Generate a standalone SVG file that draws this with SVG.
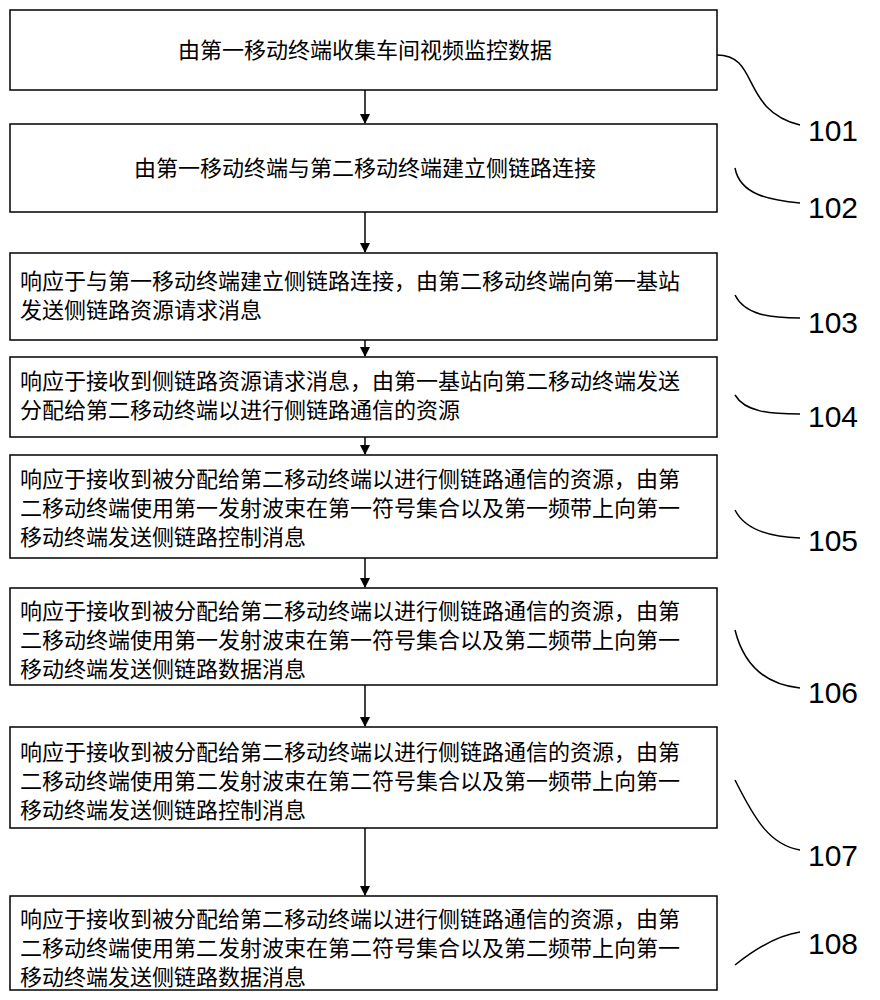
<svg xmlns="http://www.w3.org/2000/svg" width="880" height="1000" viewBox="0 0 880 1000">
<style>
.b{fill:#fff;stroke:#000;stroke-width:1.5}
.t{font-family:"Noto Sans CJK SC",sans-serif;font-size:22px;fill:#000}
.n{font-family:"Liberation Sans",sans-serif;font-size:30px;fill:#000}
.c{fill:none;stroke:#000;stroke-width:1.5}
</style>
<defs><marker id="a" markerWidth="10" markerHeight="10" refX="9" refY="5" orient="auto" markerUnits="userSpaceOnUse"><path d="M0,0 L10,5 L0,10 Z"/></marker></defs>
<rect width="880" height="1000" fill="#fff"/>
<g id="n1"><rect class="b" x="10" y="10" width="707" height="80"/><text class="t" x="365" y="58" text-anchor="middle">由第一移动终端收集车间视频监控数据</text></g>
<g id="n2"><rect class="b" x="10" y="124" width="707" height="88"/><text class="t" x="365" y="176" text-anchor="middle">由第一移动终端与第二移动终端建立侧链路连接</text></g>
<g id="n3"><rect class="b" x="10" y="253" width="707" height="87"/><text class="t" x="20" y="289">响应于与第一移动终端建立侧链路连接，由第二移动终端向第一基站</text><text class="t" x="20" y="318">发送侧链路资源请求消息</text></g>
<g id="n4"><rect class="b" x="10" y="357" width="707" height="80"/><text class="t" x="20" y="389">响应于接收到侧链路资源请求消息，由第一基站向第二移动终端发送</text><text class="t" x="20" y="418">分配给第二移动终端以进行侧链路通信的资源</text></g>
<g id="n5"><rect class="b" x="10" y="455" width="707" height="103"/><text class="t" x="20" y="487">响应于接收到被分配给第二移动终端以进行侧链路通信的资源，由第</text><text class="t" x="20" y="516">二移动终端使用第一发射波束在第一符号集合以及第一频带上向第一</text><text class="t" x="20" y="545">移动终端发送侧链路控制消息</text></g>
<g id="n6"><rect class="b" x="10" y="588" width="707" height="97"/><text class="t" x="20" y="619">响应于接收到被分配给第二移动终端以进行侧链路通信的资源，由第</text><text class="t" x="20" y="648">二移动终端使用第一发射波束在第一符号集合以及第二频带上向第一</text><text class="t" x="20" y="677">移动终端发送侧链路数据消息</text></g>
<g id="n7"><rect class="b" x="10" y="727" width="707" height="101"/><text class="t" x="20" y="760">响应于接收到被分配给第二移动终端以进行侧链路通信的资源，由第</text><text class="t" x="20" y="789">二移动终端使用第二发射波束在第二符号集合以及第一频带上向第一</text><text class="t" x="20" y="818">移动终端发送侧链路控制消息</text></g>
<g id="n8"><rect class="b" x="10" y="896" width="707" height="94"/><text class="t" x="20" y="927">响应于接收到被分配给第二移动终端以进行侧链路通信的资源，由第</text><text class="t" x="20" y="956">二移动终端使用第二发射波束在第二符号集合以及第二频带上向第一</text><text class="t" x="20" y="985">移动终端发送侧链路数据消息</text></g>
<g id="labels">
<text class="n" x="808" y="141">101</text><text class="n" x="808" y="218">102</text><text class="n" x="808" y="333">103</text><text class="n" x="808" y="427">104</text><text class="n" x="808" y="551">105</text><text class="n" x="808" y="703">106</text><text class="n" x="808" y="866">107</text><text class="n" x="808" y="954">108</text>
</g>
<g id="connectors">
<line class="c" x1="365" y1="90" x2="365" y2="123" marker-end="url(#a)"/>
<line class="c" x1="365" y1="212" x2="365" y2="252" marker-end="url(#a)"/>
<line class="c" x1="365" y1="340" x2="365" y2="356" marker-end="url(#a)"/>
<line class="c" x1="365" y1="437" x2="365" y2="454" marker-end="url(#a)"/>
<line class="c" x1="365" y1="558" x2="365" y2="587" marker-end="url(#a)"/>
<line class="c" x1="365" y1="685" x2="365" y2="726" marker-end="url(#a)"/>
<line class="c" x1="365" y1="828" x2="365" y2="895" marker-end="url(#a)"/>
<path class="c" d="M717,55 C760,55 740,110 800,125"/>
<path class="c" d="M735,168 C740,195 770,200 800,203"/>
<path class="c" d="M735,295 C745,315 770,318 800,318"/>
<path class="c" d="M735,395 C745,412 770,414 800,414"/>
<path class="c" d="M735,510 C745,530 770,537 800,538"/>
<path class="c" d="M735,630 C745,670 770,685 800,688"/>
<path class="c" d="M735,780 C755,820 770,845 800,850"/>
<path class="c" d="M735,965 C760,945 780,935 800,932"/>
</g>
</svg>
